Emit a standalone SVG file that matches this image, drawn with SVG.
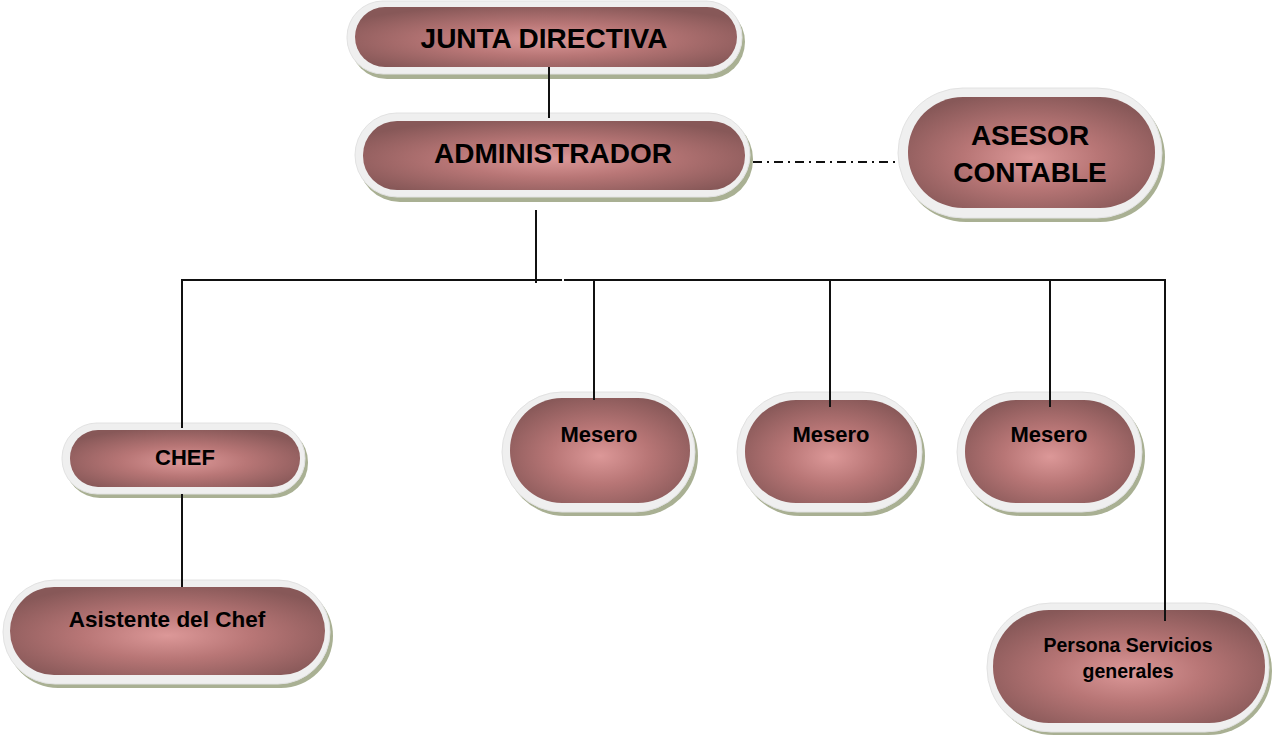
<svg xmlns="http://www.w3.org/2000/svg" width="1275" height="736" viewBox="0 0 1275 736">
<defs>
<radialGradient id="g" cx="50%" cy="55%" r="60%">
<stop offset="0" stop-color="#dc9898"/>
<stop offset="0.45" stop-color="#b87676"/>
<stop offset="1" stop-color="#875858"/>
</radialGradient>
<style>
.sh{fill:#a9b093}
.ring{fill:#efefef;stroke:#e2e2e2;stroke-width:1}
.in{fill:url(#g)}
.t{font-family:"Liberation Sans",Arial,sans-serif;font-weight:bold;fill:#000;text-anchor:middle}
.ln{stroke:#111;stroke-width:2;fill:none}
</style>
</defs>
<rect width="1275" height="736" fill="#fff"/>
<g id="junta">
<rect class="sh" x="350" y="5" width="395" height="74" rx="37"/>
<rect class="ring" x="347" y="1" width="395" height="73" rx="36"/>
<rect class="in" x="355" y="7" width="382" height="60" rx="30"/>
<text class="t" x="544" y="48" font-size="28">JUNTA DIRECTIVA</text>
</g>
<g id="admin">
<rect class="sh" x="358" y="117" width="395" height="85" rx="42"/>
<rect class="ring" x="355" y="113" width="395" height="84" rx="42"/>
<rect class="in" x="363" y="121" width="382" height="69" rx="34"/>
<text class="t" x="553" y="163" font-size="28">ADMINISTRADOR</text>
</g>
<g id="asesor">
<rect class="sh" x="901" y="92" width="264" height="130" rx="65"/>
<rect class="ring" x="898" y="88" width="264" height="130" rx="65"/>
<rect class="in" x="908" y="97" width="247" height="111" rx="55"/>
<text class="t" x="1030" y="145" font-size="28">ASESOR</text>
<text class="t" x="1030" y="182" font-size="28">CONTABLE</text>
</g>
<g id="chef">
<rect class="sh" x="65" y="427" width="243" height="71" rx="35"/>
<rect class="ring" x="62" y="423" width="243" height="71" rx="35"/>
<rect class="in" x="70" y="430" width="230" height="57" rx="28"/>
<text class="t" x="185" y="465" font-size="22">CHEF</text>
</g>
<g id="asistente">
<rect class="sh" x="6" y="584" width="327" height="104" rx="52"/>
<rect class="ring" x="3" y="580" width="327" height="104" rx="52"/>
<rect class="in" x="10" y="587" width="315" height="88" rx="44"/>
<text class="t" x="167" y="627" font-size="22.5">Asistente del Chef</text>
</g>
<g id="mesero1">
<rect class="sh" x="505" y="396" width="193" height="120" rx="60"/>
<rect class="ring" x="502" y="392" width="193" height="120" rx="60"/>
<rect class="in" x="510" y="398" width="180" height="105" rx="52"/>
<text class="t" x="599" y="442" font-size="22">Mesero</text>
</g>
<g id="mesero2">
<rect class="sh" x="740" y="396" width="185" height="120" rx="60"/>
<rect class="ring" x="737" y="392" width="185" height="120" rx="60"/>
<rect class="in" x="745" y="400" width="172" height="103" rx="51"/>
<text class="t" x="831" y="442" font-size="22">Mesero</text>
</g>
<g id="mesero3">
<rect class="sh" x="960" y="396" width="185" height="120" rx="60"/>
<rect class="ring" x="957" y="392" width="185" height="120" rx="60"/>
<rect class="in" x="965" y="400" width="170" height="103" rx="51"/>
<text class="t" x="1049" y="442" font-size="22">Mesero</text>
</g>
<g id="persona">
<rect class="sh" x="990" y="607" width="282" height="128" rx="64"/>
<rect class="ring" x="987" y="603" width="282" height="129" rx="64"/>
<rect class="in" x="993" y="610" width="272" height="113" rx="56"/>
<text class="t" x="1128" y="652" font-size="19.5">Persona Servicios</text>
<text class="t" x="1128" y="678" font-size="19.5">generales</text>
</g>
<g id="connectors">
<line class="ln" x1="549" y1="67" x2="549" y2="118"/>
<line class="ln" x1="753" y1="162" x2="898" y2="162" stroke-dasharray="9 5 2 5" stroke-width="1.5"/>
<line class="ln" x1="536" y1="210" x2="536" y2="283"/>
<polyline class="ln" points="182,428 182,280 562,280"/>
<polyline class="ln" points="564,280 1165,280 1165,621"/>
<line class="ln" x1="594" y1="280" x2="594" y2="400"/>
<line class="ln" x1="830" y1="280" x2="830" y2="407"/>
<line class="ln" x1="1050" y1="280" x2="1050" y2="407"/>
<line class="ln" x1="182" y1="494" x2="182" y2="587"/>
</g>
</svg>
